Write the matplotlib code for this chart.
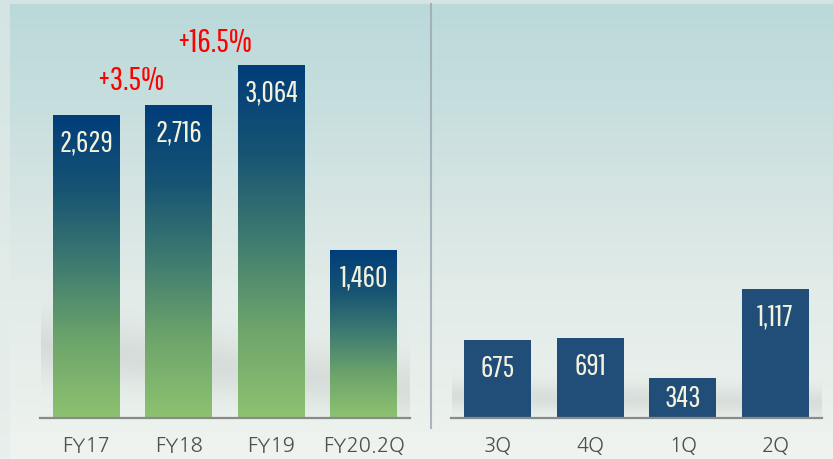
import matplotlib
matplotlib.use('Agg')
import matplotlib.pyplot as plt
import numpy as np
from matplotlib.colors import LinearSegmentedColormap, to_rgb

# yearly sales (left) and quarterly sales (right)
years = ['FY17', 'FY18', 'FY19', 'FY20.2Q']
year_vals = [2629, 2716, 3064, 1460]
quarters = ['3Q', '4Q', '1Q', '2Q']
quarter_vals = [675, 691, 343, 1117]
growth_labels = ['+3.5%', '+16.5%']   # FY18 vs FY17, FY19 vs FY18

W, H = 833, 459
fig = plt.figure(figsize=(W / 100, H / 100), dpi=100)

# ---- background: teal -> white gradient with a soft grey haze near the base
ax_bg = fig.add_axes([0, 0, 1, 1])
yy = np.arange(H)[:, None] * np.ones((1, W))
xx = np.ones((H, 1)) * np.arange(W)[None, :]
stops_y = [0, 100, 200, 300, 418, 459]
stops_c = ['#bbd9d9', '#c6dede', '#d6e5e3', '#e3ece9', '#ebf1ed', '#f0f4f1']
img = np.zeros((H, W, 3))
for k in range(3):
    img[..., k] = np.interp(yy, stops_y, [to_rgb(c)[k] for c in stops_c])
# grey haze band behind bar bases (only inside the two panels)
haze_c = np.where(xx < 431, 345 + 0.12 * (xx - 40), 395 + 0.02 * (xx - 451))
haze_w = np.where(xx < 431, 30.0, 14.0)
in_panel = ((xx > 40) & (xx < 410)) | ((xx > 451) & (xx < 822))
haze = 0.32 * np.exp(-((yy - haze_c) / haze_w) ** 2) * (yy < 418) * in_panel
grey = np.array(to_rgb('#b5b9b6'))
img = img * (1 - haze[..., None]) + grey * haze[..., None]
# lighter frame at the top and left edge
edge = ((yy < 4) | (xx < 10))
img[edge] = img[edge] * 0.4 + np.array(to_rgb('#e3ece9')) * 0.6
ax_bg.imshow(img, extent=(0, W, H, 0), aspect='auto', zorder=0)
ax_bg.set_xlim(0, W)
ax_bg.set_ylim(H, 0)
ax_bg.axis('off')
# divider between the two panels
ax_bg.plot([431, 431], [4, 428], color='#9ba6b2', lw=1.5, alpha=0.8)

label_font = ['Pathway Gothic One', 'Roboto Condensed', 'DejaVu Sans']
tick_font = ['NanumGothic', 'Noto Sans CJK KR', 'DejaVu Sans']
px_per_unit = 0.1153
base_px = 418
top_px = 4
ymax = (base_px - top_px) / px_per_unit

grad = LinearSegmentedColormap.from_list(
    'bar', ['#003d7a', '#175473', '#3f7c70', '#6ea56b', '#8dc270'])


def make_panel(left_px, right_px, cats, vals, gradient):
    ax = fig.add_axes([left_px / W, (H - base_px) / H,
                       (right_px - left_px) / W, (base_px - top_px) / H])
    ax.patch.set_alpha(0)
    ax.set_xlim(-0.5, 3.5)
    ax.set_ylim(0, ymax)
    x = np.arange(len(cats))
    if gradient:
        bars = ax.bar(x, vals, width=0.72, color='none', zorder=2)
        g = np.linspace(0, 1, 256)[:, None]
        for b in bars:
            im = ax.imshow(g, cmap=grad, aspect='auto', zorder=2, origin='upper',
                           extent=(b.get_x(), b.get_x() + b.get_width(),
                                   0, b.get_height()))
            im.set_clip_path(b)
    else:
        bars = ax.bar(x, vals, width=0.72, color='#214e79', zorder=2)
    for xi, v in zip(x, vals):
        if v * px_per_unit > 60:
            ax.annotate(f'{v:,}', (xi, v), xytext=(0, -28),
                        textcoords='offset pixels', ha='center', va='center',
                        color='#f4f2dd', fontsize=22, family=label_font, zorder=3)
        else:
            ax.text(xi, v / 2, f'{v:,}', ha='center', va='center',
                    color='#f4f2dd', fontsize=22, family=label_font, zorder=3)
    ax.set_xticks(x)
    ax.set_xticklabels(cats, family=tick_font, fontsize=14.5, color='#4f4f4f')
    ax.tick_params(axis='x', length=0, pad=13)
    ax.set_yticks([])
    for s in ['left', 'right', 'top']:
        ax.spines[s].set_visible(False)
    ax.spines['bottom'].set_color('#8a8a8a')
    ax.spines['bottom'].set_linewidth(1.6)
    ax.set_ylim(0, ymax)
    return ax


ax1 = make_panel(40, 410, years, year_vals, True)
ax2 = make_panel(451, 822, quarters, quarter_vals, False)

# growth annotations above FY18 / FY19
ax1.annotate(growth_labels[0], (1, year_vals[1]), xytext=(-48, 24),
             textcoords='offset pixels', ha='center', va='center',
             color='#ff0000', fontsize=24, family=label_font)
ax1.annotate(growth_labels[1], (2, year_vals[2]), xytext=(-57, 22),
             textcoords='offset pixels', ha='center', va='center',
             color='#ff0000', fontsize=24, family=label_font)

fig.savefig('out.png', dpi=100)
